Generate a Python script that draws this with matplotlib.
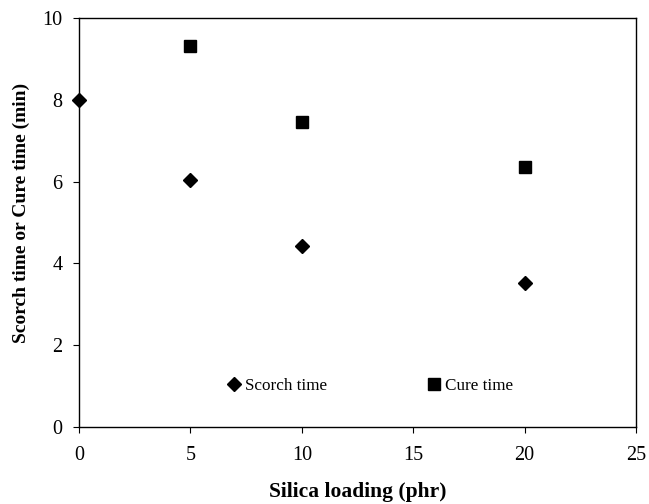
import matplotlib.pyplot as plt

plt.rcParams['font.family'] = ['Liberation Serif', 'DejaVu Serif']

silica_scorch = [0, 5, 10, 20]
scorch_time = [8.0, 6.05, 4.43, 3.53]
silica_cure = [5, 10, 20]
cure_time = [9.32, 7.46, 6.35]

fig = plt.figure(figsize=(6.49, 5.04), dpi=100)
ax = fig.add_axes([0.1217, 0.1528, 0.8583, 0.8115])

ax.plot(silica_scorch, scorch_time, 'D', color='black', ms=6.8, ls='none',
        label='Scorch time', clip_on=False)
ax.plot(silica_cure, cure_time, 's', color='black', ms=9, ls='none',
        label='Cure time', clip_on=False)

ax.set_xlim(0, 25)
ax.set_ylim(0, 10)
ax.set_xticks([0, 5, 10, 15, 20, 25])
ax.set_yticks([0, 2, 4, 6, 8, 10])
ax.tick_params(direction='out', length=4, width=0.8, labelsize=14.5)
ax.tick_params(axis='x', pad=10)
ax.tick_params(axis='y', pad=8)
for s in ax.spines.values():
    s.set_linewidth(1.0)

ax.set_xlabel('Silica loading (phr)', fontsize=15.5, fontweight='bold', labelpad=12)
ax.set_ylabel('Scorch time or Cure time (min)', fontsize=14, fontweight='bold', labelpad=10)
ax.yaxis.set_label_coords(-0.088, 0.523)

ax.legend(loc='center', bbox_to_anchor=(0.521, 0.1), ncol=2, frameon=False,
          fontsize=12.3, handletextpad=0.1, columnspacing=5.8, handlelength=1,
          markerscale=1.0)

plt.savefig('out.png', dpi=100)
